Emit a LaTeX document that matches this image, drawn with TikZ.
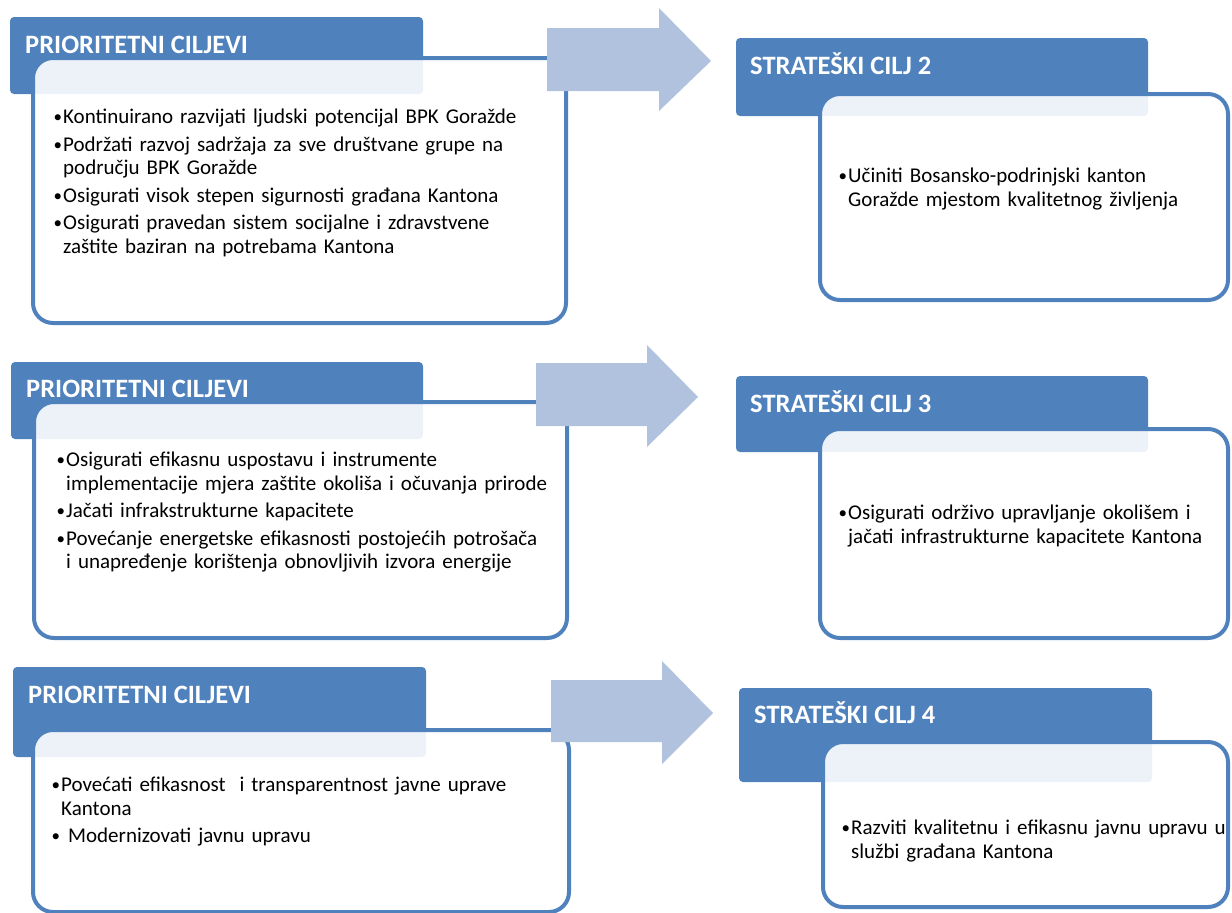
\documentclass[tikz,border=0pt]{standalone}
\usepackage{fontspec}
\setmainfont{Carlito}
\definecolor{headblue}{HTML}{4F81BD}
\definecolor{arrowblue}{HTML}{B0C2DE}
\newcommand{\ciljitem}[1]{\hangindent=10pt\hangafter=1\noindent
    \makebox[10pt][l]{\hspace{0.5pt}\raisebox{0.8pt}{\fontsize{17}{17}\selectfont\textbullet}}#1\par}

\begin{document}
\begin{tikzpicture}[x=1pt,y=-1pt,
    headbox/.style={fill=headblue,rounded corners=4pt},
    ciljbox/.style={draw=headblue,line width=4pt,fill=white,fill opacity=0.9,rounded corners=20pt},
    bigarrow/.style={fill=arrowblue},
    headtext/.style={anchor=base west,inner sep=0,text=white,font=\fontsize{26.5}{30}\selectfont\bfseries},
    bodytext/.style={anchor=north west,inner sep=0,text width=#1,font=\fontsize{21}{23.5}\selectfont,
        execute at begin node={\raggedright\setlength{\parskip}{4pt}}}]
    \useasboundingbox (0,0) rectangle (1232,913);
    % prioritetni ciljevi, lijevo
    \fill[headbox] (10,17) rectangle (423,94);
    \draw[ciljbox] (33,58) rectangle (566,323);
    \node[headtext] (h1) at (25,53) {PRIORITETNI CILJEVI};
    \node[bodytext=500pt] (t1) at (53,109)
    {
        \ciljitem{Kontinuirano razvijati ljudski potencijal BPK Goražde}
        \ciljitem{Podržati razvoj sadržaja za sve društvane grupe na\newline području BPK Goražde}
        \ciljitem{Osigurati visok stepen sigurnosti građana Kantona}
        \ciljitem{Osigurati pravedan sistem socijalne i zdravstvene\newline zaštite baziran na potrebama Kantona}
    };
    \fill[headbox] (11,362) rectangle (423,439);
    \draw[ciljbox] (34,402) rectangle (567,638);
    \node[headtext] (h2) at (26,397) {PRIORITETNI CILJEVI};
    \node[bodytext=520pt] (t2) at (56,452)
    {
        \ciljitem{Osigurati efikasnu uspostavu i instrumente\newline implementacije mjera zaštite okoliša i očuvanja prirode}
        \ciljitem{Jačati infrakstrukturne kapacitete}
        \ciljitem{Povećanje energetske efikasnosti postojećih potrošača\newline i unapređenje korištenja obnovljivih izvora energije}
    };
    \fill[headbox] (13,667) rectangle (426,757);
    \draw[ciljbox] (33,730) rectangle (569,912);
    \node[headtext] (h3) at (28,703) {PRIORITETNI CILJEVI};
    \node[bodytext=520pt] (t3) at (51,777)
    {
        \ciljitem{Povećati efikasnost\ \ i transparentnost javne uprave\newline Kantona}
        \ciljitem{\ Modernizovati javnu upravu}
    };
    % strelice
    \fill[bigarrow] (547,28) -- (659,28) -- (659,8) -- (711,61) -- (659,111) -- (659,91) -- (547,91) -- cycle;
    \fill[bigarrow] (536,363) -- (647,363) -- (647,345) -- (698,397) -- (647,447) -- (647,426) -- (536,426) -- cycle;
    \fill[bigarrow] (551,680) -- (662,680) -- (662,661) -- (713,713) -- (662,764) -- (662,742) -- (551,742) -- cycle;
    % strateski ciljevi, desno
    \fill[headbox] (736,38) rectangle (1148,116);
    \draw[ciljbox] (820,94) rectangle (1228,300);
    \node[headtext] (s2) at (750,74) {STRATEŠKI CILJ 2};
    \node[bodytext=380pt] (u2) at (838,168)
    {
        \ciljitem{Učiniti Bosansko-podrinjski kanton\newline Goražde mjestom kvalitetnog življenja}
    };
    \fill[headbox] (736,376) rectangle (1148,452);
    \draw[ciljbox] (820,429) rectangle (1228,638);
    \node[headtext] (s3) at (750,412) {STRATEŠKI CILJ 3};
    \node[bodytext=380pt] (u3) at (838,505)
    {
        \ciljitem{Osigurati održivo upravljanje okolišem i\newline jačati infrastrukturne kapacitete Kantona}
    };
    \fill[headbox] (739,688) rectangle (1152,782);
    \draw[ciljbox] (823,742) rectangle (1228,907);
    \node[headtext] (s4) at (754,723) {STRATEŠKI CILJ 4};
    \node[bodytext=390pt] (u4) at (841,820)
    {
        \ciljitem{Razviti kvalitetnu i efikasnu javnu upravu u\newline službi građana Kantona}
    };
\end{tikzpicture}
\end{document}
